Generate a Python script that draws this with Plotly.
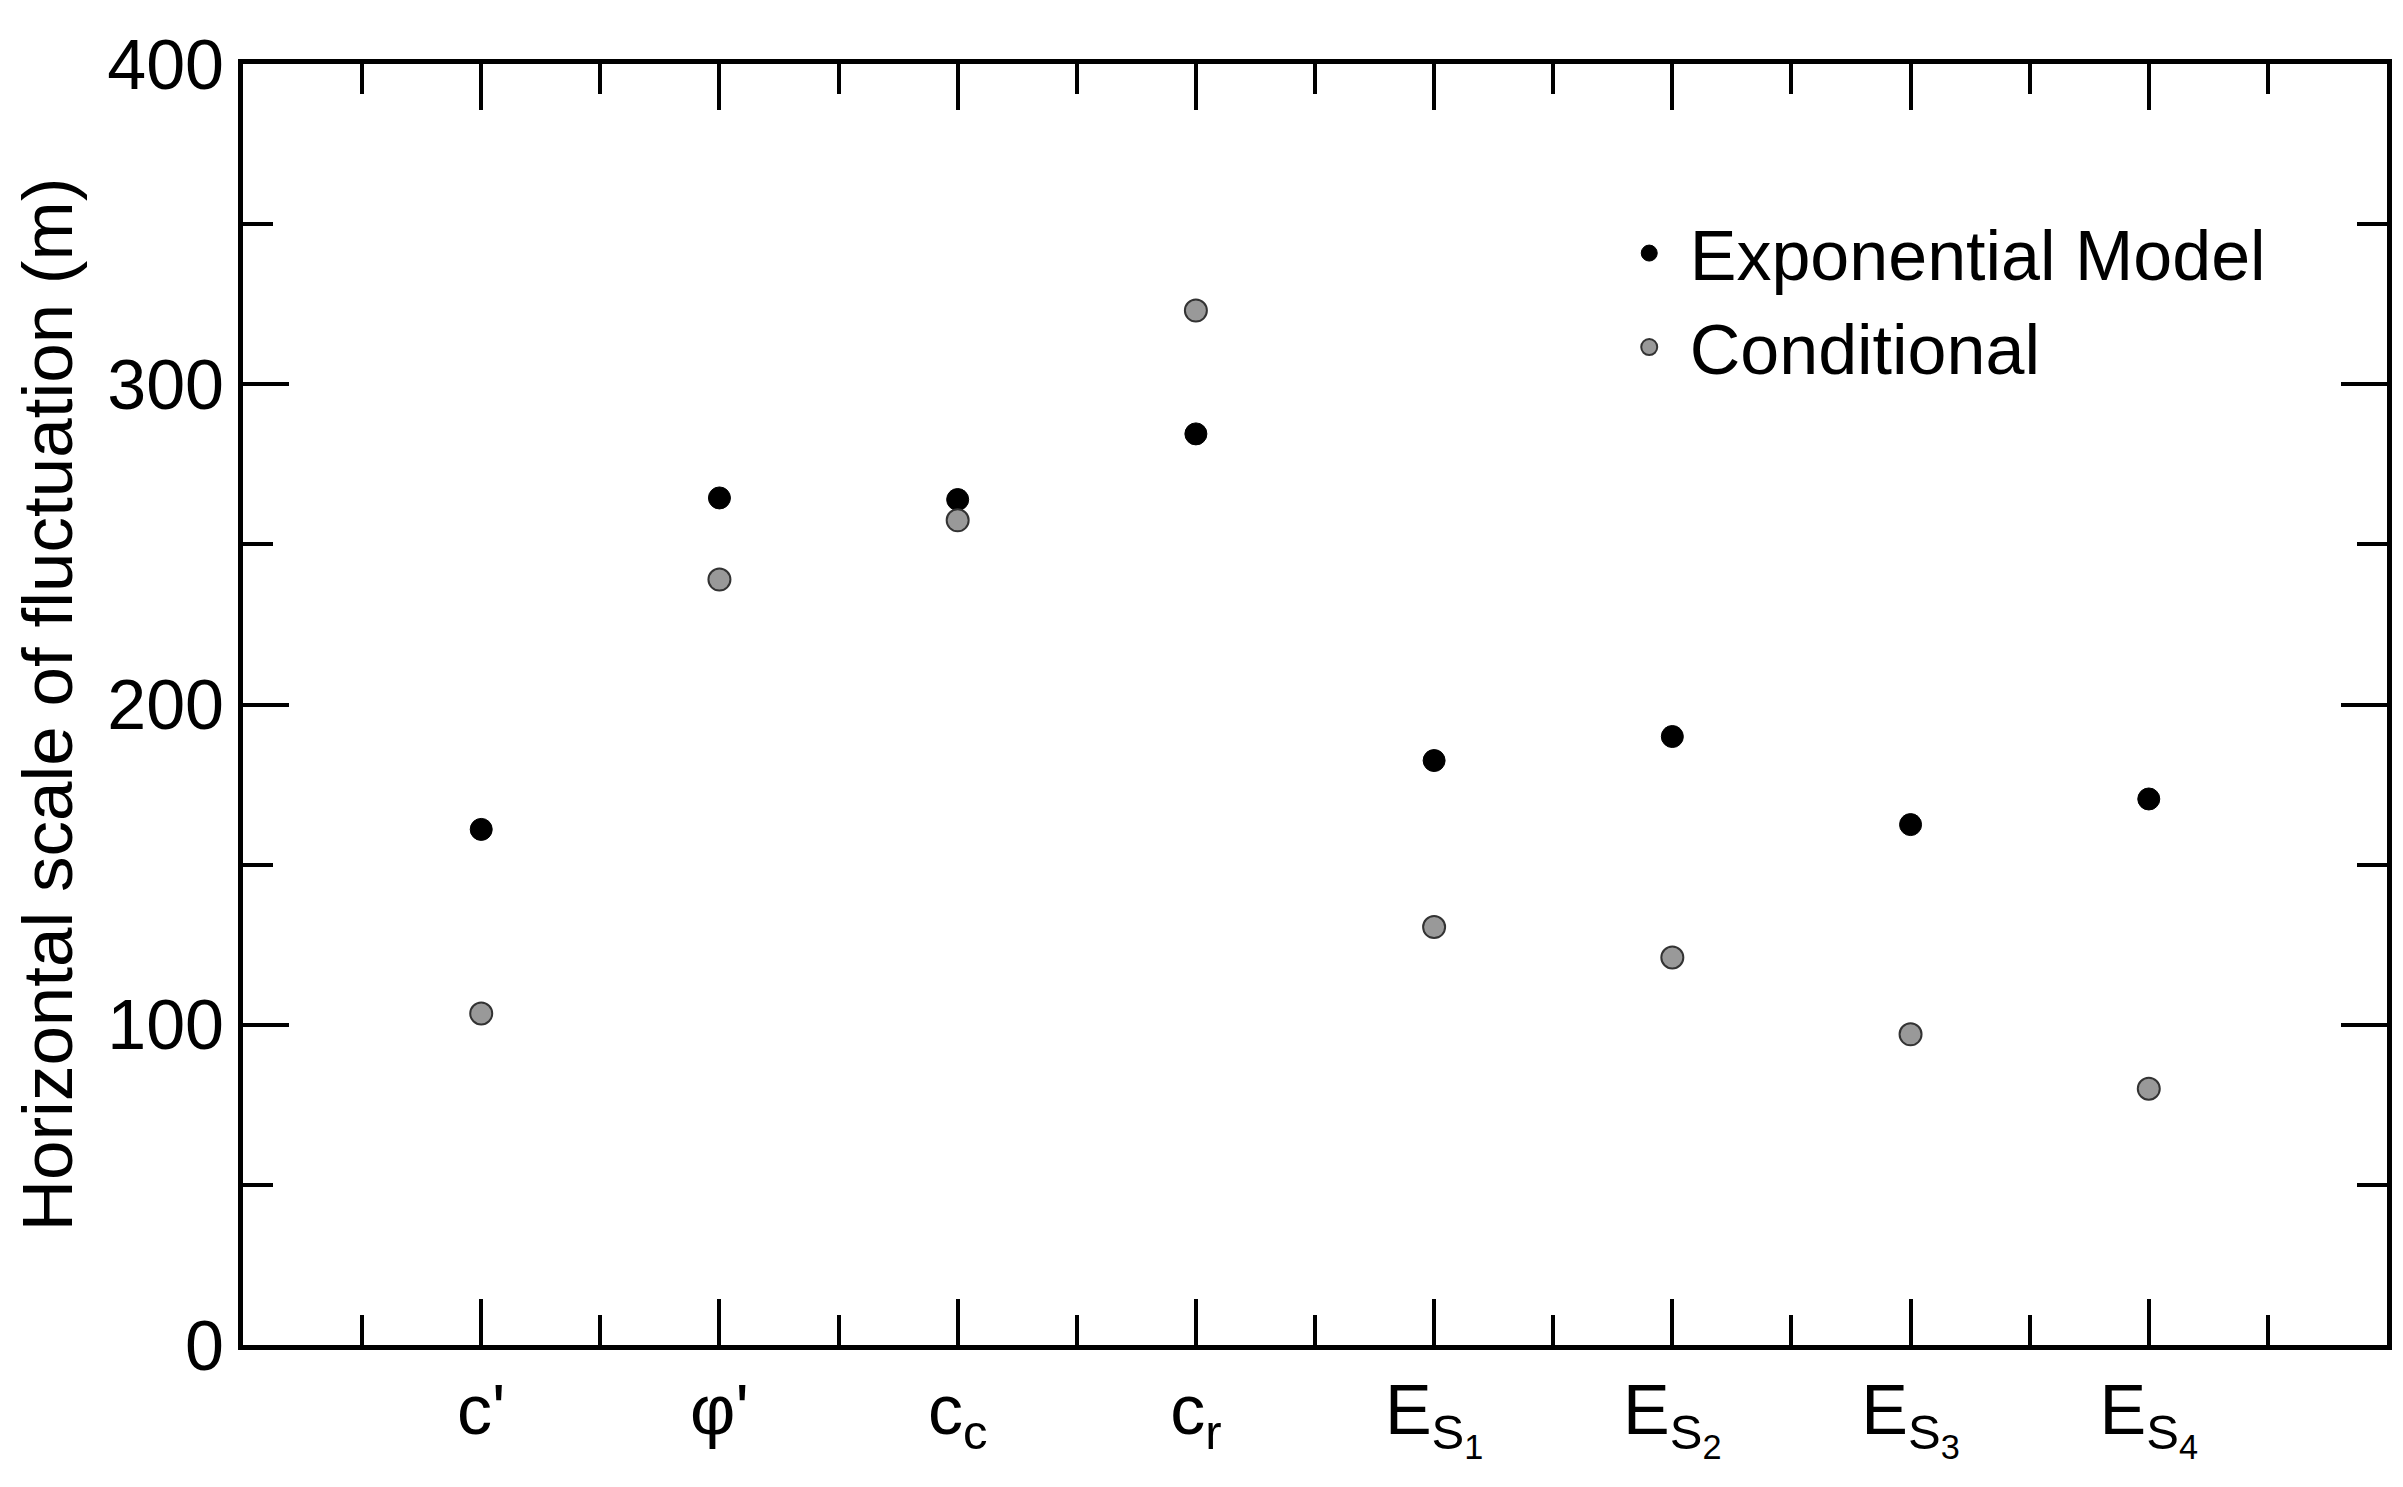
import plotly.graph_objects as go

# parameter positions and labels
params = [1, 2, 3, 4, 5, 6, 7, 8]
param_labels = ["c'", "φ'", "c<sub>c</sub>", "c<sub>r</sub>",
                "E<sub>S<sub>1</sub></sub>", "E<sub>S<sub>2</sub></sub>",
                "E<sub>S<sub>3</sub></sub>", "E<sub>S<sub>4</sub></sub>"]

# horizontal scale of fluctuation (m)
exponential = [161, 264.5, 264, 284.5, 182.5, 190, 162.5, 170.5]
conditional = [103.5, 239, 257.5, 323, 130.5, 121, 97, 80]

FONT = "Liberation Sans, Arial, sans-serif"

fig = go.Figure()

fig.add_trace(go.Scatter(
    x=params, y=exponential, mode="markers", name="Exponential Model",
    marker=dict(color="black", size=22, line=dict(color="black", width=1))
))

fig.add_trace(go.Scatter(
    x=params, y=conditional, mode="markers", name="Conditional",
    marker=dict(color="#999999", size=22, line=dict(color="#333333", width=2))
))

fig.update_xaxes(
    range=[0, 9],
    tickmode="array", tickvals=params, ticktext=param_labels,
    ticks="inside", ticklen=46, tickwidth=3.5, tickcolor="black",
    minor=dict(tickmode="linear", tick0=0.5, dtick=1, ticks="inside",
               ticklen=30, tickwidth=3.5, tickcolor="black"),
    showline=True, linewidth=5, linecolor="black", mirror="allticks",
    showgrid=False, zeroline=False,
    tickfont=dict(size=70, color="black", family=FONT),
    ticklabelstandoff=0,
)

fig.update_yaxes(
    range=[0, 400],
    tickmode="linear", tick0=0, dtick=100,
    ticks="inside", ticklen=46, tickwidth=3.5, tickcolor="black",
    minor=dict(tickmode="linear", tick0=50, dtick=100, ticks="inside",
               ticklen=30, tickwidth=3.5, tickcolor="black"),
    showline=True, linewidth=5, linecolor="black", mirror="allticks",
    showgrid=False, zeroline=False,
    tickfont=dict(size=70, color="black", family=FONT),
    title=dict(text="Horizontal scale of fluctuation (m)",
               font=dict(size=71, color="black", family=FONT), standoff=14),
)

fig.update_layout(
    width=2403, height=1487,
    margin=dict(l=235, r=24, t=56, b=150),
    plot_bgcolor="white", paper_bgcolor="white",
    font=dict(family=FONT, color="black"),
    legend=dict(x=0.637, y=0.893, xanchor="left", yanchor="top",
                bgcolor="rgba(0,0,0,0)", font=dict(size=70, color="black", family=FONT),
                itemwidth=71, tracegroupgap=0),
    showlegend=True,
)

fig.write_html("out.html")
